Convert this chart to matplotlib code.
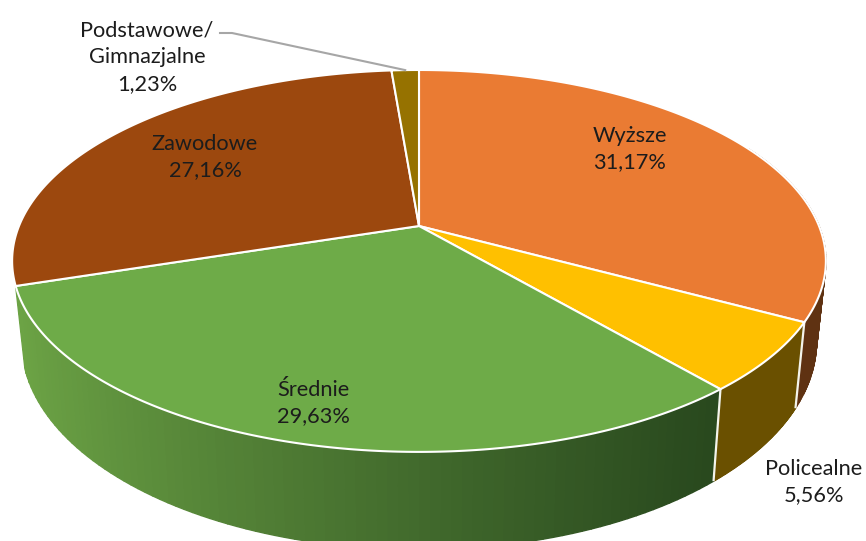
import numpy as np
import matplotlib
matplotlib.use('Agg')
import matplotlib.pyplot as plt
from matplotlib.collections import PolyCollection
from matplotlib.colors import to_rgb

# dane
categories = ['Wyższe', 'Policealne', 'Średnie', 'Zawodowe', 'Podstawowe/\nGimnazjalne']
values = [31.17, 5.56, 29.63, 27.16, 1.23]

top_colors = ['#EA7B33', '#FFC000', '#6EAB48', '#9C480E', '#967200']
side_colors = ['#5F3212', '#6A5000', '#4E7A30', None, None]
label_pos = [(630, 149), (814, 482), (313, 403), (205, 157), (147, 57)]

# geometria rzutu perspektywicznego (piksele obrazka)
cx, cy = 419.0, 226.0
R = 400.0
persp = 0.183
tilt = -143.2
depth_x = 0.977
depth_a, depth_b = 1.09, 57.0


def project(s):
    # s - kąt zgodnie z zegarem od góry, w radianach
    v, u = np.cos(s), np.sin(s)
    den = 1 + persp * v
    return cx + R * u / den, (cy + tilt * v) / den


def to_bottom(x, y):
    return cx + depth_x * (x - cx), depth_a * y + depth_b


fig = plt.figure(figsize=(8.66, 5.41), dpi=100)
ax = fig.add_axes([0, 0, 1, 1])
ax.set_xlim(0, 866)
ax.set_ylim(541, 0)
ax.axis('off')

fracs = np.array(values) / sum(values) * 2 * np.pi
edges = np.concatenate([[0], np.cumsum(fracs)])

# boczna ściana
for i in range(len(values)):
    if side_colors[i] is None:
        continue
    a0, a1 = edges[i], edges[i + 1]
    ss = np.linspace(max(a0, np.pi * 0.35), a1, 90)
    x, y = project(ss)
    xb, yb = to_bottom(x, y)
    quads = []
    cols = []
    for j in range(len(ss) - 1):
        quads.append([(x[j], y[j]), (x[j + 1], y[j + 1]), (xb[j + 1], yb[j + 1]), (xb[j], yb[j])])
        if categories[i] == 'Średnie':
            # gradient od jasnego po lewej do ciemnego po prawej
            t = np.clip((x[j] - 20) / 693, 0, 1) ** 0.85
            c = np.array(to_rgb('#6CA345')) * (1 - t) + np.array(to_rgb('#29491E')) * t
        else:
            c = to_rgb(side_colors[i])
        cols.append(c)
    ax.add_collection(PolyCollection(quads, facecolors=cols, edgecolors=cols, linewidths=1.0, zorder=2))

# białe krawędzie na ścianie
for a in edges[1:3]:
    x, y = project(np.array([a]))
    xb, yb = to_bottom(x, y)
    ax.plot([x[0], xb[0]], [y[0], yb[0]], color='#F4F4EC', lw=1.6, zorder=3, solid_capstyle='butt')

# wierzch
for i in range(len(values)):
    ss = np.linspace(edges[i], edges[i + 1], 200)
    x, y = project(ss)
    px = np.concatenate([[cx], x])
    py = np.concatenate([[cy], y])
    ax.fill(px, py, facecolor=top_colors[i], edgecolor='white', linewidth=1.5, joinstyle='round', zorder=4)

# linia odniesienia
a_mid = (edges[4] + edges[5]) / 2
lx, ly = project(np.array([a_mid]))
ax.plot([lx[0], 232, 220], [ly[0], 33, 33], color='#A6A6A6', lw=1.5, zorder=5)

# etykiety
for name, val, (tx, ty) in zip(categories, values, label_pos):
    s = name + '\n' + f'{val:.2f}'.replace('.', ',') + '%'
    ax.text(tx, ty, s, ha='center', va='center', family=['Lato', 'DejaVu Sans'], fontsize=15.7,
            color='#1C1C1C', linespacing=1.42, zorder=6)

fig.savefig('out.png', dpi=100)
